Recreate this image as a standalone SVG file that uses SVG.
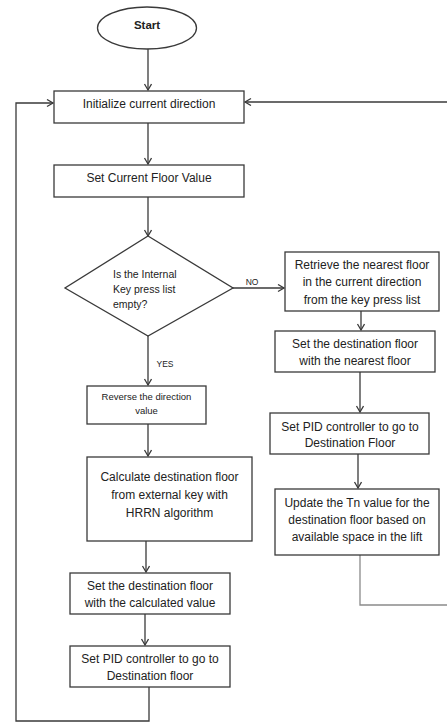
<svg xmlns="http://www.w3.org/2000/svg" width="447" height="722" viewBox="0 0 447 722">
<style>
.box{fill:#fff;stroke:#3a3a3a;stroke-width:1.3}
.t{font-family:"Liberation Sans",Arial,sans-serif;font-size:12px;fill:#222;text-anchor:middle}
.s{font-size:9.5px}
.d{font-size:10.5px;text-anchor:start}
.lbl{font-family:"Liberation Sans",Arial,sans-serif;font-size:8.5px;fill:#222;text-anchor:middle}
.c{fill:none;stroke:#3a3a3a;stroke-width:1.3}
.g{stroke:#8a8a8a}
</style>
<defs>
<marker id="ah" markerUnits="userSpaceOnUse" markerWidth="10" markerHeight="10" refX="7" refY="4" orient="auto">
<path d="M1,0.5 L7,4 L1,7.5" fill="none" stroke="#3a3a3a" stroke-width="1.3"/>
</marker>
</defs>
<rect width="447" height="722" fill="#fff"/>
<g id="connectors">
<line class="c" x1="148" y1="49" x2="148" y2="90" marker-end="url(#ah)"/>
<line class="c" x1="148" y1="123" x2="148" y2="164" marker-end="url(#ah)"/>
<line class="c" x1="148" y1="197" x2="148" y2="236" marker-end="url(#ah)"/>
<line class="c" x1="233" y1="288" x2="284" y2="288" marker-end="url(#ah)"/>
<text class="lbl" x="252" y="285">NO</text>
<line class="c" x1="361" y1="311" x2="361" y2="330" marker-end="url(#ah)"/>
<line class="c" x1="360" y1="372" x2="360" y2="412" marker-end="url(#ah)"/>
<line class="c" x1="358" y1="454" x2="358" y2="488" marker-end="url(#ah)"/>
<path class="c g" d="M360,555 V605 H448"/>
<path class="c" d="M448,102 H245" marker-end="url(#ah)"/>
<line class="c" x1="148" y1="336" x2="148" y2="385" marker-end="url(#ah)"/>
<text class="lbl" x="165" y="367">YES</text>
<line class="c" x1="148" y1="424" x2="148" y2="456" marker-end="url(#ah)"/>
<line class="c" x1="146" y1="541" x2="146" y2="572" marker-end="url(#ah)"/>
<line class="c" x1="145" y1="614" x2="145" y2="645" marker-end="url(#ah)"/>
<path class="c" d="M149,687 V721 H16 V103 H53" marker-end="url(#ah)"/>
</g>
<g id="start">
<ellipse class="box" cx="147" cy="28" rx="49.5" ry="21"/>
<text class="t" x="147" y="29" style="font-weight:bold;font-size:11.5px">Start</text>
</g>
<g id="init">
<rect class="box" x="54" y="91" width="190" height="32"/>
<text class="t" x="149" y="108">Initialize current direction</text>
</g>
<g id="setfloor">
<rect class="box" x="54" y="165" width="190" height="32"/>
<text class="t" x="149" y="182">Set Current Floor Value</text>
</g>
<g id="decision">
<polygon class="box" points="148,236 233,288 148,336 65,288"/>
<text class="t d" x="113" y="278">Is the Internal</text>
<text class="t d" x="113" y="293">Key press list</text>
<text class="t d" x="113" y="308">empty?</text>
</g>
<g id="retrieve">
<rect class="box" x="285" y="252" width="154" height="59"/>
<text class="t" x="362" y="269">Retrieve the nearest floor</text>
<text class="t" x="362" y="286">in the current direction</text>
<text class="t" x="362" y="304">from the key press list</text>
</g>
<g id="setnearest">
<rect class="box" x="275" y="331" width="160" height="41"/>
<text class="t" x="355" y="348">Set the destination floor</text>
<text class="t" x="355" y="365">with the nearest floor</text>
</g>
<g id="pid1">
<rect class="box" x="270" y="413" width="159" height="41"/>
<text class="t" x="350" y="431">Set PID controller to go to</text>
<text class="t" x="350" y="447">Destination Floor</text>
</g>
<g id="update">
<rect class="box" x="275" y="489" width="164" height="66"/>
<text class="t" x="357" y="507">Update the Tn value for the</text>
<text class="t" x="357" y="524">destination floor based on</text>
<text class="t" x="357" y="541">available space in the lift</text>
</g>
<g id="reverse">
<rect class="box" x="87" y="386" width="119" height="38"/>
<text class="t s" x="146.5" y="400">Reverse the direction</text>
<text class="t s" x="146.5" y="414">value</text>
</g>
<g id="calculate">
<rect class="box" x="87" y="457" width="165" height="84"/>
<text class="t" x="169.5" y="481">Calculate destination floor</text>
<text class="t" x="169.5" y="499">from external key with</text>
<text class="t" x="169.5" y="517">HRRN algorithm</text>
</g>
<g id="setcalc">
<rect class="box" x="70" y="573" width="160" height="41"/>
<text class="t" x="150" y="590">Set the destination floor</text>
<text class="t" x="150" y="607">with the calculated value</text>
</g>
<g id="pid2">
<rect class="box" x="70" y="646" width="160" height="41"/>
<text class="t" x="150" y="663">Set PID controller to go to</text>
<text class="t" x="150" y="680">Destination floor</text>
</g>
</svg>
